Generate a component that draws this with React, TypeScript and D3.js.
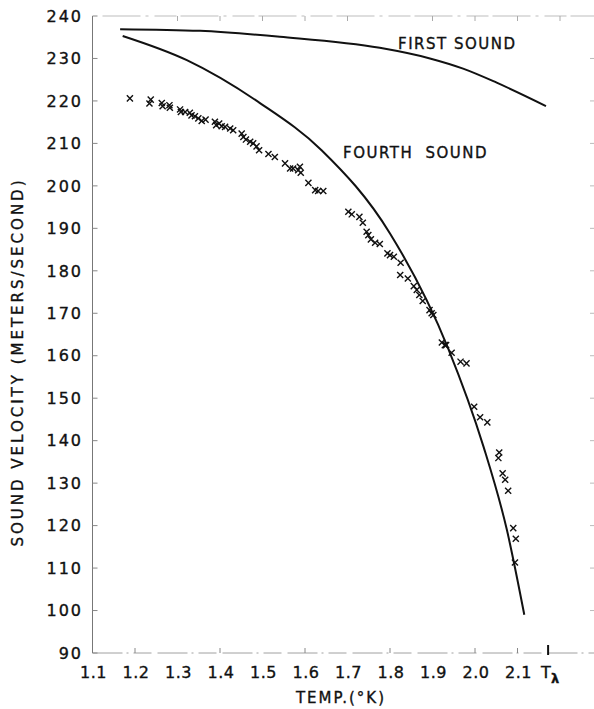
import React, { useRef, useEffect } from "react";
import * as d3 from "d3";

// measured fourth-sound velocities (temperature in K, velocity in m/s)
const tempK = [
  1.188, 1.234, 1.237, 1.263, 1.265, 1.281, 1.282, 1.306, 1.308, 1.318,
  1.329, 1.333, 1.341, 1.349, 1.357, 1.366, 1.388, 1.391, 1.398, 1.404,
  1.412, 1.424, 1.431, 1.451, 1.455, 1.461, 1.471, 1.478, 1.486, 1.492,
  1.514, 1.529, 1.553, 1.565, 1.572, 1.584, 1.588, 1.590, 1.608, 1.624,
  1.631, 1.643, 1.702, 1.710, 1.728, 1.736, 1.745, 1.749, 1.755, 1.765,
  1.776, 1.794, 1.800, 1.809, 1.825, 1.824, 1.842, 1.856, 1.863, 1.869,
  1.877, 1.893, 1.898, 1.902, 1.922, 1.929, 1.932, 1.945, 1.966, 1.980,
  1.998, 2.012, 2.029, 2.057, 2.055, 2.065, 2.071, 2.078, 2.090, 2.096,
  2.094,
];
const velocity = [
  220.6, 219.4, 220.3, 219.5, 218.75, 219.0, 218.4, 218.0, 217.4, 217.4,
  217.2, 216.6, 216.4, 215.9, 215.3, 215.6, 215.1, 214.3, 214.7, 214.05,
  213.9, 213.5, 213.1, 212.3, 211.5, 210.9, 210.4, 210.0, 209.3, 208.4,
  207.5, 206.8, 205.3, 204.1, 204.1, 203.7, 204.5, 203.1, 200.7, 199.0,
  198.8, 198.8, 193.9, 193.3, 192.7, 191.3, 189.2, 188.4, 187.4, 186.6,
  186.3, 184.1, 183.7, 183.3, 181.9, 179.0, 178.2, 176.4, 175.5, 174.3,
  172.9, 170.75, 170.0, 169.6, 163.1, 162.5, 162.5, 160.7, 158.6, 158.2,
  148.0, 145.5, 144.3, 137.2, 135.9, 132.3, 130.8, 128.2, 119.4, 116.9,
  111.3,
];

// theoretical curves
const fourthT = [1.171, 1.322, 1.494, 1.639, 1.800, 1.937, 2.020, 2.075, 2.116];
const fourthV = [235.3, 229.6, 219.5, 208.4, 188.8, 161.7, 138.6, 119.0, 99.0];
const firstT = [1.165, 1.353, 1.541, 1.776, 1.894, 1.972, 2.051, 2.167];
const firstV = [236.9, 236.5, 235.1, 232.5, 230.0, 227.6, 224.3, 218.8];

const xTicks = [1.1, 1.2, 1.3, 1.4, 1.5, 1.6, 1.7, 1.8, 1.9, 2.0, 2.1];
const xTickLabels = ["1.1", "1.2", "1.3", "1.4", "1.5", "1.6", "1.7", "1.8", "1.9", "2.0", "2.1"];
const yTicks = [90, 100, 110, 120, 130, 140, 150, 160, 170, 180, 190, 200, 210, 220, 230, 240];
const lambdaT = 2.172;

const FONT = "'DejaVu Sans', sans-serif";

const SoundPlot = () => {
  const svgRef = useRef(null);

  useEffect(() => {
    const svg = d3.select(svgRef.current);
    svg.selectAll("*").remove();

    const width = 594;
    const height = 709;
    const margin = { top: 16, right: 0, bottom: 56, left: 92.5 };

    const x = d3.scaleLinear()
      .domain([1.1, 2.28])
      .range([margin.left, width - margin.right]);

    const y = d3.scaleLinear()
      .domain([90, 240])
      .range([height - margin.bottom, margin.top]);

    const y0 = y(90);
    const y1 = y(240);

    // lettering is a touch heavier than plain DejaVu
    const letter = sel => sel
      .attr("font-family", FONT)
      .attr("fill", "#111")
      .attr("stroke", "#111")
      .attr("stroke-width", 0.35);

    // faint frame (top and bottom scanned rules)
    svg.append("line")
      .attr("x1", x(1.1) + 10).attr("x2", width)
      .attr("y1", y1).attr("y2", y1)
      .attr("stroke", "#bdbdbd").attr("stroke-width", 1)
      .attr("stroke-dasharray", "38,5,3,6,22,4");

    svg.append("line")
      .attr("x1", x(1.1)).attr("x2", width)
      .attr("y1", y0).attr("y2", y0)
      .attr("stroke", "#a0a0a0").attr("stroke-width", 1)
      .attr("stroke-dasharray", "30,4,2,5,18,6");

    // left axis
    svg.append("line")
      .attr("x1", x(1.1)).attr("x2", x(1.1))
      .attr("y1", y1).attr("y2", y0)
      .attr("stroke", "#777").attr("stroke-width", 1);

    svg.selectAll(".ytick")
      .data(yTicks)
      .enter()
      .append("line")
      .attr("x1", x(1.1)).attr("x2", x(1.1) + 5)
      .attr("y1", d => y(d)).attr("y2", d => y(d))
      .attr("stroke", "#888");

    svg.selectAll(".ytick-r")
      .data(yTicks.slice(1, -1))
      .enter()
      .append("line")
      .attr("x1", width - 4).attr("x2", width)
      .attr("y1", d => y(d)).attr("y2", d => y(d))
      .attr("stroke", "#bbb");

    svg.selectAll(".ylabel")
      .data(yTicks)
      .enter()
      .append("text")
      .attr("x", 83)
      .attr("y", d => y(d))
      .attr("dy", "0.36em")
      .attr("text-anchor", "end")
      .attr("font-size", 16)
      .attr("letter-spacing", 2)
      .call(letter)
      .text(d => String(d));

    // bottom ticks
    svg.selectAll(".xtick")
      .data([1.2, 1.4, 1.6, 1.8, 2.0, 2.1])
      .enter()
      .append("line")
      .attr("x1", d => x(d)).attr("x2", d => x(d))
      .attr("y1", y0).attr("y2", y0 - 5)
      .attr("stroke", "#888");

    svg.selectAll(".xtick-top")
      .data([1.3, 1.4, 1.5, 1.6, 1.7, 1.9, 2.0, 2.1, 2.2])
      .enter()
      .append("line")
      .attr("x1", d => x(d)).attr("x2", d => x(d))
      .attr("y1", y1).attr("y2", y1 + 5)
      .attr("stroke", "#aaa");

    svg.append("line")
      .attr("x1", x(lambdaT)).attr("x2", x(lambdaT))
      .attr("y1", y0 + 2).attr("y2", y0 - 8)
      .attr("stroke", "#111").attr("stroke-width", 2);

    svg.selectAll(".xlabel")
      .data(xTicks)
      .enter()
      .append("text")
      .attr("x", d => x(d) + 1)
      .attr("y", y0 + 25)
      .attr("text-anchor", "middle")
      .attr("font-size", 16)
      .attr("letter-spacing", 0.5)
      .call(letter)
      .text((d, i) => xTickLabels[i]);

    const tl = svg.append("text")
      .attr("x", x(lambdaT) - 7)
      .attr("y", y0 + 25)
      .attr("font-size", 16)
      .call(letter);
    tl.append("tspan").text("T");
    tl.append("tspan").attr("dy", 5).attr("font-size", 13).attr("font-weight", "bold").text("λ");

    // axis titles
    svg.append("text")
      .attr("x", 341)
      .attr("y", y0 + 50)
      .attr("text-anchor", "middle")
      .attr("font-size", 15)
      .attr("letter-spacing", 2)
      .call(letter)
      .text("TEMP.(°K)");

    svg.append("text")
      .attr("transform", `translate(23,${362})rotate(-90)`)
      .attr("text-anchor", "middle")
      .attr("font-size", 15)
      .attr("letter-spacing", 3)
      .call(letter)
      .text("SOUND VELOCITY (METERS/SECOND)");

    // theory curves
    const line = d3.line()
      .x(d => x(d[0]))
      .y(d => y(d[1]))
      .curve(d3.curveMonotoneX);

    svg.append("path")
      .datum(firstT.map((t, i) => [t, firstV[i]]))
      .attr("d", line)
      .attr("fill", "none")
      .attr("stroke", "#111")
      .attr("stroke-width", 2);

    svg.append("path")
      .datum(fourthT.map((t, i) => [t, fourthV[i]]))
      .attr("d", line)
      .attr("fill", "none")
      .attr("stroke", "#111")
      .attr("stroke-width", 2);

    svg.append("text")
      .attr("x", 398).attr("y", 49)
      .attr("font-size", 15)
      .attr("letter-spacing", 1.5)
      .call(letter)
      .text("FIRST SOUND");

    svg.append("text")
      .attr("x", 343).attr("y", 158)
      .attr("font-size", 15)
      .attr("letter-spacing", 1.5)
      .attr("word-spacing", 6)
      .call(letter)
      .text("FOURTH SOUND");

    // data crosses
    const cross = d3.symbol(d3.symbolX, 26);
    svg.selectAll(".pt")
      .data(tempK.map((t, i) => [t, velocity[i]]))
      .enter()
      .append("path")
      .attr("class", "pt")
      .attr("transform", d => `translate(${x(d[0])},${y(d[1])})`)
      .attr("d", cross)
      .attr("fill", "none")
      .attr("stroke", "#111")
      .attr("stroke-width", 1.4);
  }, []);

  return (
    <svg
      ref={svgRef}
      width={594}
      height={709}
      style={{ position: "absolute", left: 0, top: 0, background: "#fff" }}
    ></svg>
  );
};

export default function App() {
  return <SoundPlot />;
}
